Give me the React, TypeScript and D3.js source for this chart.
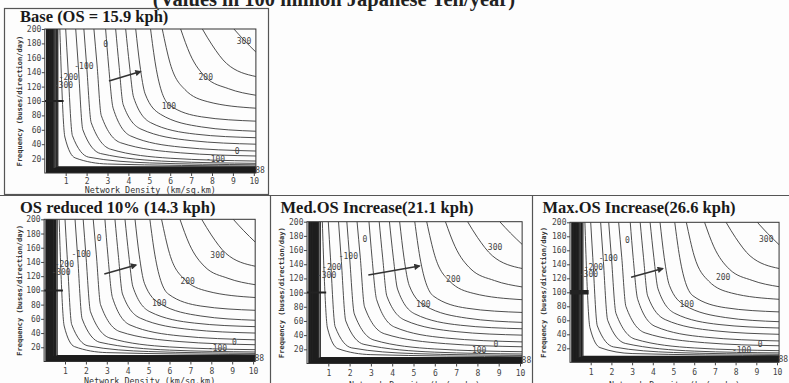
import React, { useEffect, useRef } from 'react';
import * as d3 from 'd3';

type Pt = [number, number];
type Label = [string, number, number];

const xTicks = [1, 2, 3, 4, 5, 6, 7, 8, 9, 10];
const yTicks = [20, 40, 60, 80, 100, 120, 140, 160, 180, 200];

// contour lines, [density, frequency] from the top edge to the right edge
const contourLines: Pt[][] = [
    [[9.05, 200], [9.55, 184], [10.1, 168]],
    [[7.54, 200], [8.0, 178], [8.7, 152], [10.1, 134]],
    [[6.5, 200], [6.95, 165], [7.7, 133], [8.8, 117], [10.1, 108]],
    [[5.62, 200], [6.0, 152], [6.7, 116], [7.8, 99], [10.1, 90]],
    [[5.06, 200], [5.3, 150], [5.94, 95], [7.5, 78], [10.1, 72]],
    [[4.35, 200], [4.55, 150], [4.8, 110], [5.54, 81.5], [7.5, 64], [10.1, 58]],
    [[3.87, 200], [4.05, 150], [4.25, 105], [5.06, 70], [7.2, 54], [10.1, 49]],
    [[3.39, 200], [3.55, 150], [3.75, 95], [4.6, 61], [7.0, 45], [10.1, 40]],
    [[2.91, 200], [3.05, 150], [3.27, 90], [4.11, 51.4], [6.5, 36], [10.1, 30.5]],
    [[2.35, 200], [2.5, 150], [2.7, 80], [3.63, 42], [6.5, 28], [10.1, 23.6]],
    [[1.87, 200], [2.0, 150], [2.22, 70], [3.15, 33], [6.0, 20.5], [10.1, 16.6]],
    [[1.48, 200], [1.6, 150], [1.82, 60], [2.67, 27], [6.0, 16], [10.1, 13.4]],
    [[1.0, 200], [1.1, 150], [1.32, 52], [2.1, 22], [5.0, 14], [10.1, 11.4]],
    [[0.72, 200], [0.8, 130], [0.96, 50], [1.45, 21], [3.0, 12.5], [10.1, 9.6]]
];

// tightly packed contours hugging the axes
const denseTopX = [0.09, 0.12, 0.15, 0.18, 0.21, 0.24, 0.27, 0.3, 0.33, 0.36, 0.4, 0.44, 0.49, 0.55, 0.62];
const denseRightY = [0.5, 1.0, 1.5, 2.0, 2.5, 3.0, 3.5, 4.0, 4.5, 5.0, 5.6, 6.2, 6.9, 7.6, 8.4];

const panelTitles = [
    'Base (OS = 15.9 kph)',
    'OS reduced 10% (14.3 kph)',
    'Med.OS Increase(21.1 kph)',
    'Max.OS Increase(26.6 kph)'
];

const baseLabels: Label[] = [
    ['300', 9.53, 183.5], ['200', 7.7, 132.5], ['100', 5.94, 93], ['0', 2.91, 179], ['0', 9.2, 30.5],
    ['-100', 1.87, 148.8], ['-200', 1.13, 132.5], ['-300', 0.89, 121.5], ['-100', 8.17, 19], ['88', 10.3, 4]
];
const reducedLabels: Label[] = [
    ['300', 8.3, 149.8], ['200', 6.87, 113.6], ['100', 5.51, 81.9], ['0', 2.64, 174], ['0', 9.1, 26.5],
    ['-100', 1.77, 150.8], ['-200', 0.97, 136.5], ['-300', 0.81, 125], ['-100', 8.3, 18.6], ['88', 10.3, 4]
];
const medLabels: Label[] = [
    ['300', 8.83, 163.9], ['200', 6.87, 118.7], ['100', 5.46, 83.5], ['0', 2.72, 175], ['0', 8.87, 27.5],
    ['-100', 1.94, 151.6], ['-200', 1.16, 136.5], ['-300', 0.92, 124.8], ['-100', 7.97, 19], ['88', 10.3, 4]
];
const maxLabels: Label[] = [
    ['300', 9.48, 175.7], ['200', 7.4, 121.4], ['100', 5.64, 82.9], ['0', 2.77, 174.7], ['0', 9.19, 26.1],
    ['-100', 1.85, 148.6], ['-200', 1.13, 135.7], ['-300', 0.89, 126], ['-100', 8.29, 17.6], ['88', 10.3, 4]
];

// improvement direction arrows [x1, y1, x2, y2]
const arrows = [
    [3.07, 127.9, 4.58, 140.9],
    [2.88, 123, 4.4, 135.7],
    [2.88, 124.8, 5.28, 137.5],
    [2.95, 121.4, 4.48, 134]
];

const panels = [
    { labels: baseLabels, x0: 44.8, unit: 20.9, yTop: 29, yBot: 173, titleX: 20, titleY: 22.3, yTitleX: 22, tickPad: 2, xTitleY: 193, bar: 2 },
    { labels: reducedLabels, x0: 44.1, unit: 20.9, yTop: 219.3, yBot: 361.5, titleX: 20, titleY: 213, yTitleX: 22, tickPad: 4, xTitleY: 384, bar: 2 },
    { labels: medLabels, x0: 307, unit: 21.3, yTop: 221.7, yBot: 363.5, titleX: 280.5, titleY: 212.5, yTitleX: 284, tickPad: 3.5, xTitleY: 387.5, bar: 2 },
    { labels: maxLabels, x0: 570, unit: 20.7, yTop: 222.3, yBot: 362.3, titleX: 542.5, titleY: 212.5, yTitleX: 546, tickPad: 4, xTitleY: 387.5, bar: 4.5 }
];

const mono = '"DejaVu Sans Mono", "Liberation Mono", monospace';
const serif = '"Liberation Serif", "Times New Roman", serif';

const App = () => {
    const svgRef = useRef<SVGSVGElement>(null);

    useEffect(() => {
        const svg = d3.select(svgRef.current);
        svg.selectAll('*').remove();

        svg.append('rect').attr('width', 789).attr('height', 383).attr('fill', '#fdfdfd');

        const defs = svg.append('defs');
        defs
            .append('marker')
            .attr('id', 'arrowhead')
            .attr('viewBox', '0 0 10 10')
            .attr('refX', 8)
            .attr('refY', 5)
            .attr('markerWidth', 4.5)
            .attr('markerHeight', 4)
            .attr('orient', 'auto')
            .append('path')
            .attr('d', 'M0,0 L10,5 L0,10 z')
            .attr('fill', '#333');

        // page heading, cut off by the top edge of the scan
        svg
            .append('text')
            .attr('x', 334)
            .attr('y', 6)
            .attr('text-anchor', 'middle')
            .style('font-family', serif)
            .style('font-weight', 'bold')
            .style('font-size', '20.5px')
            .style('fill', '#222')
            .text('(Values in 100 million Japanese Yen/year)');

        // panel frames
        const frame = svg.append('g').attr('fill', 'none').attr('stroke', '#555').attr('stroke-width', 1.2);
        frame.append('rect').attr('x', 4.5).attr('y', 8.5).attr('width', 264).attr('height', 186);
        frame.append('line').attr('x1', 0).attr('x2', 789).attr('y1', 195.5).attr('y2', 195.5);
        frame.append('line').attr('x1', 270.5).attr('x2', 270.5).attr('y1', 195.5).attr('y2', 383);
        frame.append('line').attr('x1', 532.5).attr('x2', 532.5).attr('y1', 195.5).attr('y2', 383);

        panels.forEach((p, i) => {
            const g = svg.append('g');
            const xScale = d3.scaleLinear().domain([0, 10.1]).range([p.x0, p.x0 + 10.1 * p.unit]);
            const yScale = d3.scaleLinear().domain([0, 200]).range([p.yBot, p.yTop]);

            defs
                .append('clipPath')
                .attr('id', `clip${i}`)
                .append('rect')
                .attr('x', xScale(0))
                .attr('y', yScale(200))
                .attr('width', xScale(10.1) - xScale(0))
                .attr('height', yScale(0) - yScale(200));

            g.append('text')
                .attr('x', p.titleX)
                .attr('y', p.titleY)
                .style('font-family', serif)
                .style('font-weight', 'bold')
                .style('font-size', '16.5px')
                .style('fill', '#1a1a1a')
                .text(panelTitles[i]);

            const plot = g.append('g').attr('clip-path', `url(#clip${i})`);

            const line = d3
                .line<Pt>()
                .x(d => xScale(d[0]))
                .y(d => yScale(d[1]))
                .curve(d3.curveMonotoneX);

            plot
                .selectAll('.contour')
                .data(contourLines)
                .enter()
                .append('path')
                .attr('class', 'contour')
                .attr('d', d => line(d))
                .attr('fill', 'none')
                .attr('stroke', '#3a3a3a')
                .attr('stroke-width', 0.9);

            const corner = d3
                .line<Pt>()
                .x(d => xScale(d[0]))
                .y(d => yScale(d[1]));

            plot
                .selectAll('.dense')
                .data(denseTopX.map((tx, k) => [[tx, 200], [tx, denseRightY[k]], [10.1, denseRightY[k]]] as Pt[]))
                .enter()
                .append('path')
                .attr('class', 'dense')
                .attr('d', d => corner(d))
                .attr('fill', 'none')
                .attr('stroke', '#1e1e1e')
                .attr('stroke-width', 1.3);

            plot
                .append('line')
                .attr('x1', xScale(0))
                .attr('x2', xScale(0.9))
                .attr('y1', yScale(100))
                .attr('y2', yScale(100))
                .attr('stroke', '#222')
                .attr('stroke-width', p.bar);

            // frame of the plot
            g.append('rect')
                .attr('x', xScale(0))
                .attr('y', yScale(200))
                .attr('width', xScale(10.1) - xScale(0))
                .attr('height', yScale(0) - yScale(200))
                .attr('fill', 'none')
                .attr('stroke', '#333')
                .attr('stroke-width', 1);

            const xAxis = g
                .append('g')
                .attr('transform', `translate(0, ${yScale(0)})`)
                .call(d3.axisBottom(xScale).tickValues(xTicks).tickSize(3).tickPadding(p.tickPad).tickFormat(d3.format('d')));
            xAxis.select('.domain').remove();

            const yAxis = g
                .append('g')
                .attr('transform', `translate(${xScale(0)}, 0)`)
                .call(d3.axisLeft(yScale).tickValues(yTicks).tickSize(3).tickPadding(0.5).tickFormat(d3.format('d')));
            yAxis.select('.domain').remove();

            [xAxis, yAxis].forEach(ax => {
                ax.selectAll('text').style('font-family', mono).style('font-size', '8px').style('fill', '#444');
                ax.selectAll('line').attr('stroke', '#444');
            });

            g.append('text')
                .attr('x', (xScale(0) + xScale(10.1)) / 2)
                .attr('y', p.xTitleY)
                .attr('text-anchor', 'middle')
                .style('font-family', mono)
                .style('font-size', '8.4px')
                .style('fill', '#333')
                .text('Network Density (km/sq.km)');

            g.append('text')
                .attr('transform', `translate(${p.yTitleX}, ${(yScale(0) + yScale(200)) / 2}) rotate(-90)`)
                .attr('text-anchor', 'middle')
                .style('font-family', mono)
                .style('font-size', '7px')
                .style('font-weight', 'bold')
                .style('fill', '#333')
                .text('Frequency (buses/direction/day)');

            g.selectAll('.clabel')
                .data(p.labels)
                .enter()
                .append('text')
                .attr('class', 'clabel')
                .attr('x', d => xScale(d[1]))
                .attr('y', d => yScale(d[2]))
                .attr('dy', '0.35em')
                .attr('text-anchor', 'middle')
                .style('font-family', mono)
                .style('font-size', '8px')
                .style('fill', '#444')
                .text(d => d[0]);

            const a = arrows[i];
            g.append('line')
                .attr('x1', xScale(a[0]))
                .attr('y1', yScale(a[1]))
                .attr('x2', xScale(a[2]))
                .attr('y2', yScale(a[3]))
                .attr('stroke', '#333')
                .attr('stroke-width', 1.6)
                .attr('marker-end', 'url(#arrowhead)');
        });
    }, []);

    return (
        <svg
            ref={svgRef}
            width={789}
            height={383}
            style={{ position: 'absolute', left: 0, top: 0, display: 'block' }}
        ></svg>
    );
};

export default App;
